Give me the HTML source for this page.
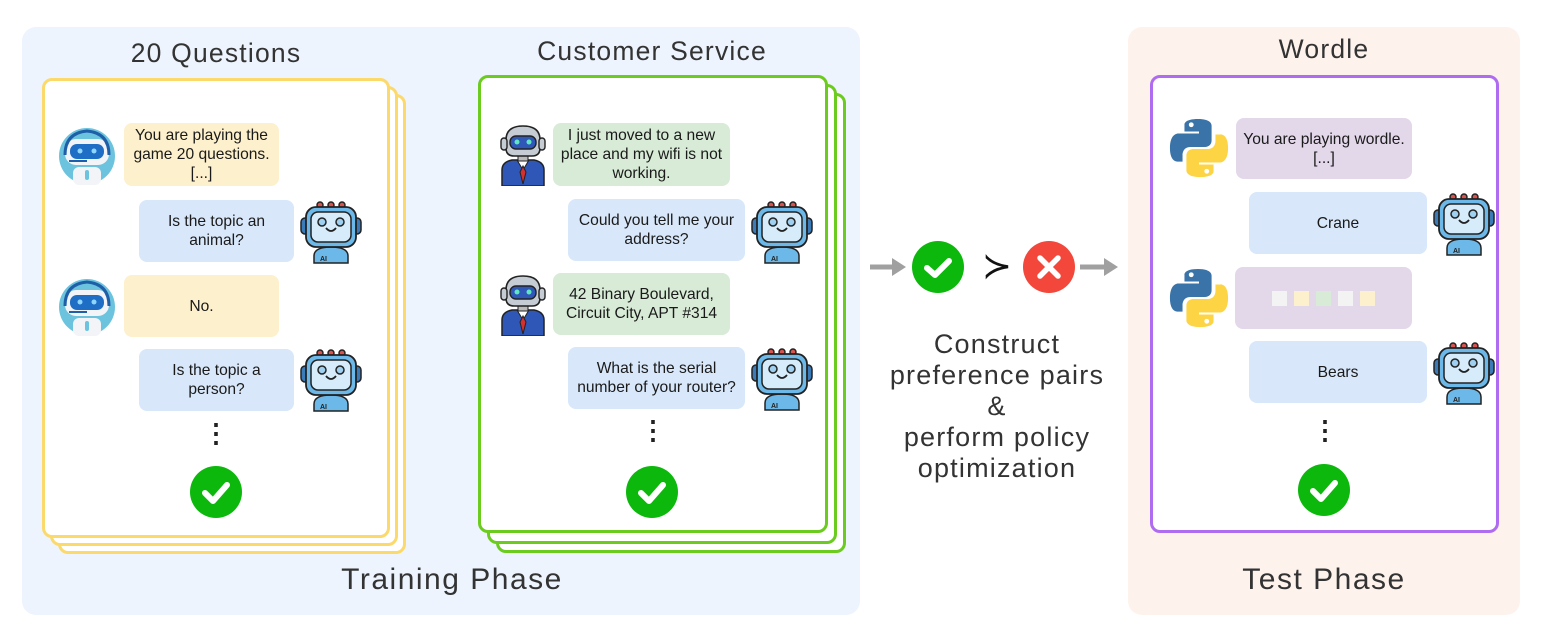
<!DOCTYPE html>
<html><head><meta charset="utf-8">
<style>
*{margin:0;padding:0;box-sizing:border-box}
body{width:1545px;height:627px;background:#fff;position:relative;overflow:hidden;font-family:"Liberation Sans",sans-serif;color:#222}
.panel{position:absolute;border-radius:14px}
.card{position:absolute;background:#fff;border-radius:10px;border:3px solid}
.b{position:absolute;border-radius:8px;display:flex;align-items:center;justify-content:center;text-align:center;font-size:15.6px;line-height:19px;color:#1a1a1a}
.y{background:#fdf0cc}.bl{background:#d8e7f9}.g{background:#d7ebd6}.p{background:#e3d7ea}
.t{position:absolute;font-size:26.5px;color:#333;text-align:center;letter-spacing:1.2px}
.dots{position:absolute;font-size:26px;font-weight:bold;width:20px;text-align:center}
svg.ic{position:absolute}
</style></head><body>
<svg width="0" height="0" style="position:absolute">
<defs>
<symbol id="chk" viewBox="0 0 52 52"><circle cx="26" cy="26" r="26" fill="#0db80d"/><path d="M15 27 L23 35 L37 19" stroke="#fff" stroke-width="6" fill="none" stroke-linecap="round" stroke-linejoin="round"/></symbol>
<symbol id="ai" viewBox="0 0 62 64">
<circle cx="20" cy="5" r="3" fill="#d9534f" stroke="#222" stroke-width="1.5"/><circle cx="31" cy="5" r="3" fill="#d9534f" stroke="#222" stroke-width="1.5"/><circle cx="42" cy="5" r="3" fill="#d9534f" stroke="#222" stroke-width="1.5"/>
<rect x="1" y="18" width="8" height="16" rx="4" fill="#3a7bb8" stroke="#222" stroke-width="1.5"/><rect x="53" y="18" width="8" height="16" rx="4" fill="#3a7bb8" stroke="#222" stroke-width="1.5"/>
<path d="M14 56 Q14 47 31 47 Q48 47 48 56 L48 63 L14 63Z" fill="#6cb8e8" stroke="#222" stroke-width="1.5"/>
<text x="20" y="61" font-size="7" font-weight="bold" font-family="Liberation Sans" fill="#222">AI</text>
<rect x="6" y="7" width="50" height="40" rx="10" fill="#6cb8e8" stroke="#222" stroke-width="1.8"/>
<rect x="11" y="12" width="40" height="30" rx="7" fill="#d6ecfa" stroke="#222" stroke-width="1.5"/>
<circle cx="22" cy="22" r="4" fill="#9fd0f0" stroke="#222" stroke-width="1.5"/><circle cx="40" cy="22" r="4" fill="#9fd0f0" stroke="#222" stroke-width="1.5"/>
<path d="M26 28 Q31 34 36 28" stroke="#222" stroke-width="1.8" fill="none"/>
</symbol>
<symbol id="hr" viewBox="0 0 60 60">
<circle cx="30" cy="31" r="28" fill="#6cc3de"/>
<rect x="8" y="14" width="44" height="26" rx="11" fill="#f2f4f7"/>
<rect x="13" y="19" width="34" height="15" rx="7" fill="#1f6ec6"/>
<circle cx="23" cy="26" r="2.5" fill="#8fd6ff"/><circle cx="37" cy="26" r="2.5" fill="#8fd6ff"/>
<rect x="16" y="42" width="28" height="18" rx="6" fill="#f2f4f7"/>
<rect x="28" y="45" width="4" height="10" rx="2" fill="#6cc3de"/>
<path d="M8 30 Q8 8 30 6 Q52 8 52 30" stroke="#1f5fa8" stroke-width="3" fill="none"/>
<path d="M12 36 L30 36" stroke="#1f5fa8" stroke-width="2"/>
</symbol>
<symbol id="sr" viewBox="0 0 50 64">
<path d="M4 64 L4 48 Q4 40 14 38 L36 38 Q46 40 46 48 L46 64Z" fill="#2e57b8" stroke="#222" stroke-width="1.5"/>
<path d="M19 38 L25 48 L31 38Z" fill="#fff" stroke="#222" stroke-width="1"/>
<path d="M25 44 L22 50 L25 62 L28 50Z" fill="#d3302f" stroke="#222" stroke-width="1"/>
<rect x="20" y="32" width="10" height="7" fill="#bbb" stroke="#222" stroke-width="1"/>
<path d="M8 18 Q8 4 25 4 Q42 4 42 18 L42 26 Q42 34 34 34 L16 34 Q8 34 8 26Z" fill="#c6ccd3" stroke="#222" stroke-width="1.6"/>
<rect x="12" y="14" width="26" height="13" rx="6" fill="#2e57b8" stroke="#222" stroke-width="1.4"/>
<circle cx="19" cy="20" r="2.5" fill="#5fe6c0"/><circle cx="31" cy="20" r="2.5" fill="#5fe6c0"/>
<rect x="3" y="16" width="6" height="12" rx="3" fill="#c6ccd3" stroke="#222" stroke-width="1.4"/><rect x="41" y="16" width="6" height="12" rx="3" fill="#c6ccd3" stroke="#222" stroke-width="1.4"/>
</symbol>
<symbol id="py" viewBox="0 0 64 64">
<path d="M31 2 C16 2 17 8 17 8 L17 15 L32 15 L32 17 L11 17 C11 17 2 16 2 32 C2 47 10 46 10 46 L15 46 L15 39 C15 39 15 31 23 31 L38 31 C38 31 45 31 45 24 L45 9 C45 9 46 2 31 2Z" fill="#3a73a8"/>
<circle cx="24" cy="8" r="2.5" fill="#fff"/>
<path d="M33 62 C48 62 47 56 47 56 L47 49 L32 49 L32 47 L53 47 C53 47 62 48 62 32 C62 17 54 18 54 18 L49 18 L49 25 C49 25 49 33 41 33 L26 33 C26 33 19 33 19 40 L19 55 C19 55 18 62 33 62Z" fill="#fdd443"/>
<circle cx="40" cy="56" r="2.5" fill="#fff"/>
</symbol>
</defs></svg>

<div class="panel" style="left:22px;top:27px;width:838px;height:588px;background:#edf4fd"></div>
<div class="panel" style="left:1128px;top:27px;width:392px;height:588px;background:#fdf3ec"></div>

<div class="t" style="left:66px;top:38px;width:300px">20 Questions</div>
<div class="t" style="left:502px;top:36px;width:300px">Customer Service</div>
<div class="t" style="left:1174px;top:34px;width:300px">Wordle</div>
<div class="t" style="left:252px;top:563px;width:400px;font-size:30px;letter-spacing:1.5px">Training Phase</div>
<div class="t" style="left:1174px;top:563px;width:300px;font-size:30px;letter-spacing:1.5px">Test Phase</div>

<div class="card" style="left:58px;top:94px;width:348px;height:460px;border-color:#fcd96b"></div>
<div class="card" style="left:50px;top:86px;width:348px;height:460px;border-color:#fcd96b"></div>
<div class="card" style="left:42px;top:78px;width:348px;height:460px;border-color:#fcd96b"></div>
<div class="card" style="left:496px;top:93px;width:350px;height:460px;border-color:#6ccb1f"></div>
<div class="card" style="left:487px;top:84px;width:350px;height:460px;border-color:#6ccb1f"></div>
<div class="card" style="left:478px;top:75px;width:350px;height:458px;border-color:#6ccb1f"></div>
<div class="card" style="left:1150px;top:75px;width:349px;height:458px;border-color:#b06cf0"></div>

<svg class="ic" style="left:57px;top:125px" width="60" height="60"><use href="#hr"/></svg>
<div class="b y" style="left:124px;top:123px;width:155px;height:63px">You are playing the game 20 questions. [...]</div>
<div class="b bl" style="left:139px;top:200px;width:155px;height:62px">Is the topic an<br>animal?</div>
<svg class="ic" style="left:300px;top:200px" width="62" height="64"><use href="#ai"/></svg>
<svg class="ic" style="left:57px;top:276px" width="60" height="60"><use href="#hr"/></svg>
<div class="b y" style="left:124px;top:275px;width:155px;height:62px">No.</div>
<div class="b bl" style="left:139px;top:349px;width:155px;height:62px">Is the topic a<br>person?</div>
<svg class="ic" style="left:300px;top:348px" width="62" height="64"><use href="#ai"/></svg>
<div class="dots" style="left:203px;top:418px">⋮</div>
<svg class="ic" style="left:190px;top:466px" width="52" height="52"><use href="#chk"/></svg>

<svg class="ic" style="left:498px;top:122px" width="50" height="64"><use href="#sr"/></svg>
<div class="b g" style="left:553px;top:123px;width:177px;height:63px">I just moved to a new place and my wifi is not working.</div>
<div class="b bl" style="left:568px;top:199px;width:177px;height:62px">Could you tell me your<br>address?</div>
<svg class="ic" style="left:751px;top:200px" width="62" height="64"><use href="#ai"/></svg>
<svg class="ic" style="left:498px;top:272px" width="50" height="64"><use href="#sr"/></svg>
<div class="b g" style="left:553px;top:273px;width:177px;height:62px">42 Binary Boulevard,<br>Circuit City, APT #314</div>
<div class="b bl" style="left:568px;top:347px;width:177px;height:62px">What is the serial<br>number of your router?</div>
<svg class="ic" style="left:751px;top:347px" width="62" height="64"><use href="#ai"/></svg>
<div class="dots" style="left:640px;top:415px">⋮</div>
<svg class="ic" style="left:626px;top:466px" width="52" height="52"><use href="#chk"/></svg>

<svg class="ic" style="left:1168px;top:117px" width="62" height="62"><use href="#py"/></svg>
<div class="b p" style="left:1236px;top:118px;width:176px;height:61px">You are playing wordle.<br>[...]</div>
<div class="b bl" style="left:1249px;top:192px;width:178px;height:62px">Crane</div>
<svg class="ic" style="left:1433px;top:192px" width="62" height="64"><use href="#ai"/></svg>
<svg class="ic" style="left:1168px;top:267px" width="62" height="62"><use href="#py"/></svg>
<div class="b p" style="left:1235px;top:267px;width:177px;height:62px;gap:7px">
<span style="width:15px;height:15px;background:#f3f3f3;display:inline-block"></span><span style="width:15px;height:15px;background:#fdf0cc;display:inline-block"></span><span style="width:15px;height:15px;background:#d7ebd6;display:inline-block"></span><span style="width:15px;height:15px;background:#f3f3f3;display:inline-block"></span><span style="width:15px;height:15px;background:#fdf0cc;display:inline-block"></span></div>
<div class="b bl" style="left:1249px;top:341px;width:178px;height:62px">Bears</div>
<svg class="ic" style="left:1433px;top:341px" width="62" height="64"><use href="#ai"/></svg>
<div class="dots" style="left:1312px;top:415px">⋮</div>
<svg class="ic" style="left:1298px;top:464px" width="52" height="52"><use href="#chk"/></svg>

<svg class="ic" style="left:868px;top:240px" width="260" height="56">
<path d="M2 27 L28 27" stroke="#a0a0a0" stroke-width="5"/><path d="M24 18 L38 27 L24 36Z" fill="#a0a0a0"/>
<circle cx="70" cy="27" r="26" fill="#0db80d"/><path d="M59 28 L67 35 L81 21" stroke="#fff" stroke-width="6" fill="none" stroke-linecap="round" stroke-linejoin="round"/>
<circle cx="181" cy="27" r="26" fill="#f2473a"/><path d="M172 18 L190 36 M190 18 L172 36" stroke="#fff" stroke-width="5.5" stroke-linecap="round"/>
<path d="M212 27 L238 27" stroke="#a0a0a0" stroke-width="5"/><path d="M236 18 L250 27 L236 36Z" fill="#a0a0a0"/>
</svg>
<div style="position:absolute;left:972px;top:242px;width:50px;text-align:center;font-family:'DejaVu Sans',sans-serif;font-size:36px;line-height:50px;color:#111">≻</div>
<div class="t" style="left:857px;top:329px;width:280px;line-height:31px;font-size:27px">Construct<br>preference pairs<br>&amp;<br>perform policy<br>optimization</div>
</body></html>
